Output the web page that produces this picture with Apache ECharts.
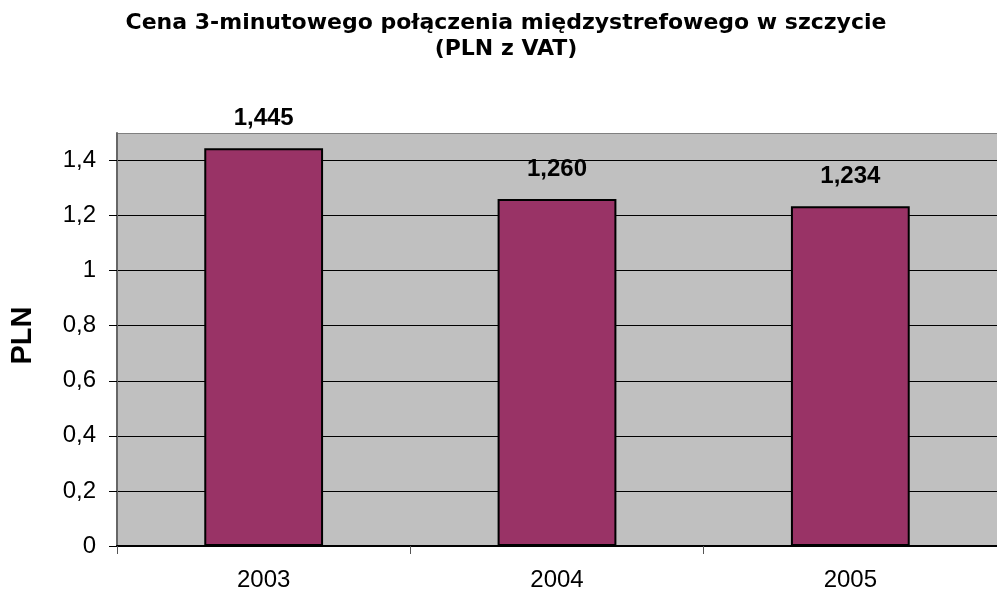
<!DOCTYPE html>
<html>
<head>
<meta charset="utf-8">
<script src="https://cdn.jsdelivr.net/npm/echarts@6/dist/echarts.min.js"></script>
<style>
html,body{margin:0;padding:0;background:#fff;}
#chart{width:997px;height:594px;}
</style>
</head>
<body>
<div id="chart"></div>
<script>
const titleText = 'Cena 3-minutowego połączenia międzystrefowego w szczycie\n(PLN z VAT)';
const yAxisName = 'PLN';
const years = ['2003', '2004', '2005'];
const prices = [1.445, 1.260, 1.234];
const yMin = 0;
const yMax = 1.5;
const yStep = 0.2;

const FONT = '"Liberation Sans", Arial, sans-serif';
const TITLE_FONT = '"DejaVu Sans", "Liberation Sans", sans-serif';
const chart = echarts.init(document.getElementById('chart'), null, {renderer: 'canvas'});

const splitColors = [];
for (let i = 0; i < 8; i++) splitColors.push('#000000');
splitColors.push('#808080');

chart.setOption({
  animation: false,
  backgroundColor: '#ffffff',
  title: {
    text: titleText,
    left: 501,
    top: 5,
    textAlign: 'center',
    textStyle: {fontFamily: TITLE_FONT, fontSize: 22, fontWeight: 'bold', color: '#000', lineHeight: 26}
  },
  grid: {
    left: 113, right: -9, top: 133, bottom: 48,
    show: true, backgroundColor: '#c0c0c0', borderWidth: 0
  },
  xAxis: {
    type: 'category',
    data: years,
    axisLine: {show: true, lineStyle: {color: '#000', width: 2}},
    axisTick: {show: true, length: 8, lineStyle: {color: '#555', width: 1}},
    axisLabel: {fontFamily: FONT, fontSize: 24, color: '#000', margin: 22},
    splitLine: {show: false}
  },
  yAxis: {
    type: 'value',
    min: yMin, max: yMax, interval: yStep,
    name: yAxisName,
    nameLocation: 'middle',
    nameGap: 80,
    nameTextStyle: {fontFamily: FONT, fontSize: 29, fontWeight: 'bold', color: '#000', padding: [0, 0, 0, 8]},
    axisLine: {show: true, lineStyle: {color: '#666', width: 2}},
    axisTick: {show: true, length: 8, lineStyle: {color: '#000', width: 1}},
    axisLabel: {
      fontFamily: FONT, fontSize: 24, color: '#000', margin: 21,
      showMaxLabel: false,
      formatter: v => String(+v.toFixed(1)).replace('.', ',')
    },
    splitLine: {show: true, lineStyle: {color: splitColors, width: 1}}
  },
  series: [{
    type: 'bar',
    data: prices,
    barWidth: '40.5%',
    itemStyle: {color: '#993366', borderColor: '#000', borderWidth: 2},
    label: {
      show: true, position: 'top', distance: 18,
      fontFamily: FONT, fontSize: 24, fontWeight: 'bold', color: '#000',
      formatter: p => p.value.toFixed(3).replace('.', ',')
    }
  }]
});
</script>
</body>
</html>
